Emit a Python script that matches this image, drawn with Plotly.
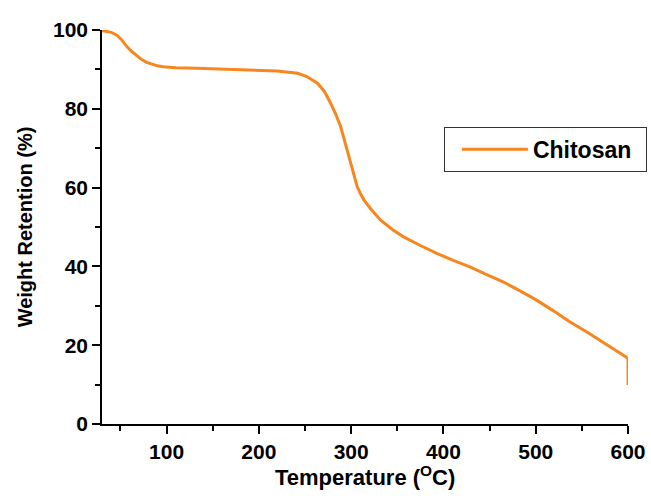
import plotly.graph_objects as go

temperature = [30, 31.3, 40, 46.1, 51, 56.9, 62, 67.7, 73, 78.4, 85, 90, 96.4, 110, 132.3, 160, 193.4, 220, 241.9, 252, 263.5, 271, 277.8, 283, 288.6, 292, 295.8, 298.5, 301.2, 304, 306.6, 310, 313.8, 320.9, 331.7, 345, 356.8, 375, 392.8, 410, 428.7, 445, 464.6, 482, 500.5, 518, 536.4, 555, 572.3, 585, 597.5, 600, 600.3, 599.8, 600.2, 599.9, 600.1, 600]
weight = [100, 99.8, 99.4, 98.7, 97.6, 95.8, 94.6, 93.4, 92.5, 91.8, 91.2, 90.9, 90.7, 90.4, 90.3, 90.1, 89.8, 89.6, 89.0, 88.2, 86.5, 84.4, 81.4, 78.8, 75.5, 72.6, 69.5, 67.0, 64.5, 62.2, 60.2, 58.5, 56.9, 54.7, 51.8, 49.3, 47.5, 45.3, 43.3, 41.6, 39.9, 38.1, 36.1, 33.9, 31.5, 28.9, 26.0, 23.4, 20.9, 19.0, 17.1, 16.6, 14.5, 15.5, 12.8, 13.8, 11.5, 9.9]

x_ticks = [100, 200, 300, 400, 500, 600]
y_ticks = [0, 20, 40, 60, 80, 100]
series_name = "Chitosan"
x_title = "Temperature (<sup>O</sup>C)"
y_title = "Weight Retention (%)"

orange = "#F7861E"
font_family = "Liberation Sans, Arial, sans-serif"

fig = go.Figure()
fig.add_trace(go.Scatter(
    x=temperature, y=weight, mode="lines", name=series_name,
    line=dict(color=orange, width=3),
))

axis_common = dict(
    showline=True, linecolor="black", linewidth=1.5,
    ticks="outside", ticklen=8, tickwidth=1.5, tickcolor="black",
    showgrid=False, zeroline=False, mirror=False,
    tickfont=dict(family=font_family, size=21, color="black", weight="bold"),
)

fig.update_xaxes(
    range=[30, 600], tickvals=x_ticks, automargin=False,
    minor=dict(tickvals=[50, 150, 250, 350, 450, 550], ticklen=5, tickwidth=1.5, tickcolor="black", ticks="outside"),
    **axis_common,
)
fig.update_yaxes(
    range=[0, 100], tickvals=y_ticks, automargin=False,
    title_text=y_title,
    title_font=dict(family=font_family, size=20, color="black", weight="bold"),
    minor=dict(tickvals=[10, 30, 50, 70, 90], ticklen=5, tickwidth=1.5, tickcolor="black", ticks="outside"),
    **axis_common,
)

fig.add_annotation(
    text=x_title, xref="paper", yref="paper", x=0.5, y=-0.132,
    xanchor="center", yanchor="middle", showarrow=False,
    font=dict(family=font_family, size=22, color="black", weight="bold"),
)

fig.update_layout(
    width=651, height=498,
    margin=dict(l=102, r=23, t=30, b=74, autoexpand=False),
    plot_bgcolor="white", paper_bgcolor="white",
    showlegend=True,
    legend=dict(
        x=0.650, y=0.7546, xanchor="left", yanchor="top",
        orientation="h", entrywidth=108, indentation=12,
        bordercolor="#333333", borderwidth=1, bgcolor="white",
        font=dict(family=font_family, size=23, color="black", weight="bold"),
        itemwidth=66,
    ),
)

fig.write_html("out.html")
